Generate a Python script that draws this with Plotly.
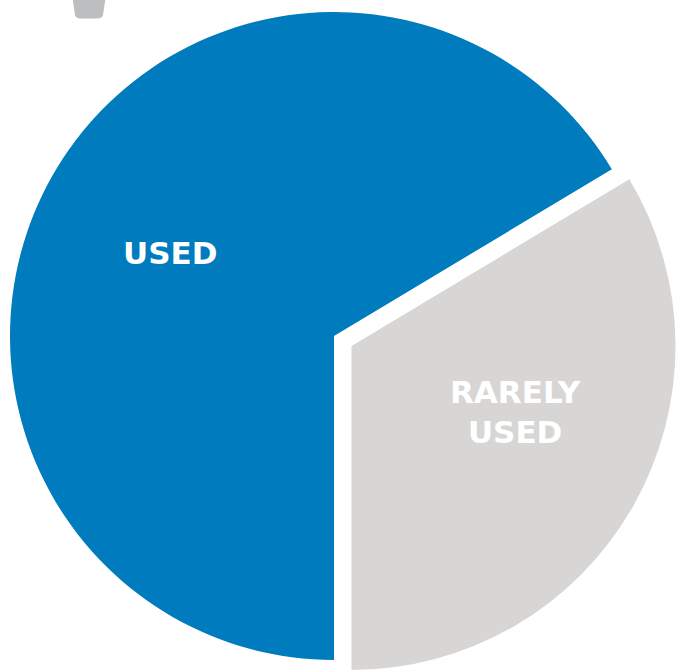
import plotly.graph_objects as go

# ---- data ----
categories = ["USED", "RARELY USED"]
values = [66.4, 33.6]
label_text = ["USED", "RARELY<br>USED"]
colors = ["#007BBD", "#D7D6D4"]

W, H = 677, 670
fig = go.Figure()

R = 324  # pixel radius


def dom(cx, cy):
    return dict(x=[(cx - R) / W, (cx + R) / W],
                y=[max(0, (H - cy - R) / H), min(1, (H - cy + R) / H)])


# blue (USED) slice
fig.add_trace(go.Pie(
    labels=categories, values=values, sort=False, direction="clockwise",
    rotation=180, marker=dict(colors=[colors[0], "rgba(0,0,0,0)"], line=dict(width=0)),
    textinfo="none", hoverinfo="label+percent", showlegend=False,
    domain=dom(334, 336),
))
# gray (RARELY USED) slice, pulled out
fig.add_trace(go.Pie(
    labels=categories, values=values, sort=False, direction="clockwise",
    rotation=180, marker=dict(colors=["rgba(0,0,0,0)", colors[1]], line=dict(width=0)),
    textinfo="none", hoverinfo="label+percent", showlegend=False,
    domain=dom(351.5, 346),
))


def px(x, y):
    return f"{x / W:.5f},{1 - y / H:.5f}"


# decorative gray shape at top-left
path = ("M " + px(72, -5) + " L " + px(106, -5) + " L " + px(103, 15) +
        " Q " + px(102, 18.5) + " " + px(98, 18.5) + " L " + px(80, 18.5) +
        " Q " + px(76, 18.5) + " " + px(75, 15) + " Z")
fig.add_shape(type="path", path=path, xref="paper", yref="paper",
              fillcolor="#BDBEC0", line=dict(width=0))

fig.add_annotation(x=170 / W, y=1 - 253 / H, xref="paper", yref="paper",
                   xanchor="center", yanchor="middle",
                   text=label_text[0], showarrow=False,
                   font=dict(family="DejaVu Sans", size=31, color="white", weight="bold"))
fig.add_annotation(x=515 / W, y=1 - 412 / H, xref="paper", yref="paper",
                   xanchor="center", yanchor="middle",
                   text=label_text[1], showarrow=False,
                   font=dict(family="DejaVu Sans", size=31, color="white", weight="bold"))

fig.update_layout(width=W, height=H, margin=dict(l=0, r=0, t=0, b=0),
                  paper_bgcolor="white", plot_bgcolor="white")
fig.write_html("out.html", config={"displayModeBar": False},
               post_script="document.body.style.margin='0';document.body.style.overflow='hidden';")
